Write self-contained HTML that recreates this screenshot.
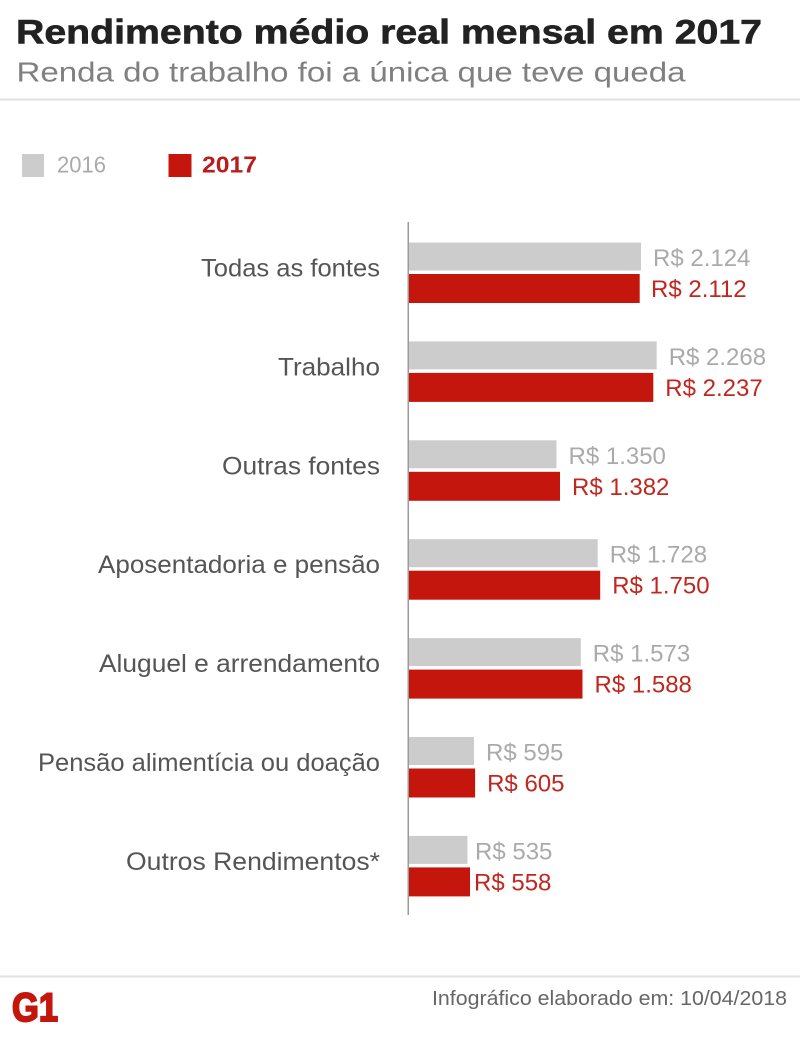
<!DOCTYPE html>
<html>
<head>
<meta charset="utf-8">
<style>
  html, body { margin: 0; padding: 0; background: #ffffff; }
  body { width: 800px; height: 1043px; overflow: hidden; }
  svg { display: block; }
  text { font-family: "Liberation Sans", sans-serif; }
</style>
</head>
<body>
<svg width="800" height="1043" viewBox="0 0 800 1043" xmlns="http://www.w3.org/2000/svg">
  <rect x="0" y="0" width="800" height="1043" fill="#ffffff"/>

  <!-- Header -->
  <text x="16" y="43.5" font-size="34" font-weight="bold" fill="#222222" stroke="#222222" stroke-width="0.6" textLength="746" lengthAdjust="spacingAndGlyphs">Rendimento médio real mensal em 2017</text>
  <text x="16.5" y="81.5" font-size="28" fill="#808080" textLength="669" lengthAdjust="spacingAndGlyphs">Renda do trabalho foi a única que teve queda</text>
  <rect x="0" y="98.5" width="800" height="2" fill="#e2e2e2"/>

  <!-- Legend -->
  <rect x="22" y="154" width="22" height="23" fill="#cccccc"/>
  <text x="57" y="172.5" font-size="23" fill="#aaaaaa" textLength="49" lengthAdjust="spacingAndGlyphs">2016</text>
  <rect x="168.5" y="154" width="23" height="23" fill="#c4160d"/>
  <text x="202" y="172.5" font-size="23" font-weight="bold" fill="#b91c1c" textLength="55" lengthAdjust="spacingAndGlyphs">2017</text>

  <!-- Axis -->
  <rect x="407.5" y="222" width="1.5" height="693" fill="#9a9a9a"/>

  <!-- Row 1 -->
  <text x="201" y="276.5" font-size="25" fill="#555555" textLength="179" lengthAdjust="spacingAndGlyphs">Todas as fontes</text>
  <rect x="409" y="242.5" width="232" height="28" fill="#cccccc"/>
  <rect x="409" y="274" width="230.7" height="29" fill="#c4160d"/>
  <text x="653" y="266" font-size="24" fill="#aaaaaa">R$ 2.124</text>
  <text x="651" y="297" font-size="24" fill="#c0271f">R$ 2.112</text>

  <!-- Row 2 -->
  <text x="278" y="375.4" font-size="25" fill="#555555" textLength="102" lengthAdjust="spacingAndGlyphs">Trabalho</text>
  <rect x="409" y="341.4" width="247.7" height="28" fill="#cccccc"/>
  <rect x="409" y="372.9" width="244.3" height="29" fill="#c4160d"/>
  <text x="668.7" y="364.9" font-size="24" fill="#aaaaaa">R$ 2.268</text>
  <text x="665.3" y="395.9" font-size="24" fill="#c0271f">R$ 2.237</text>

  <!-- Row 3 -->
  <text x="222" y="474.3" font-size="25" fill="#555555" textLength="158" lengthAdjust="spacingAndGlyphs">Outras fontes</text>
  <rect x="409" y="440.3" width="147.5" height="28" fill="#cccccc"/>
  <rect x="409" y="471.8" width="151" height="29" fill="#c4160d"/>
  <text x="568.5" y="463.8" font-size="24" fill="#aaaaaa">R$ 1.350</text>
  <text x="572" y="494.8" font-size="24" fill="#c0271f">R$ 1.382</text>

  <!-- Row 4 -->
  <text x="98" y="573.2" font-size="25" fill="#555555" textLength="282" lengthAdjust="spacingAndGlyphs">Aposentadoria e pensão</text>
  <rect x="409" y="539.2" width="188.7" height="28" fill="#cccccc"/>
  <rect x="409" y="570.7" width="191.2" height="29" fill="#c4160d"/>
  <text x="609.7" y="562.7" font-size="24" fill="#aaaaaa">R$ 1.728</text>
  <text x="612.2" y="593.7" font-size="24" fill="#c0271f">R$ 1.750</text>

  <!-- Row 5 -->
  <text x="99" y="672.1" font-size="25" fill="#555555" textLength="281" lengthAdjust="spacingAndGlyphs">Aluguel e arrendamento</text>
  <rect x="409" y="638.1" width="171.8" height="28" fill="#cccccc"/>
  <rect x="409" y="669.6" width="173.5" height="29" fill="#c4160d"/>
  <text x="592.8" y="661.6" font-size="24" fill="#aaaaaa">R$ 1.573</text>
  <text x="594.5" y="692.6" font-size="24" fill="#c0271f">R$ 1.588</text>

  <!-- Row 6 -->
  <text x="38" y="771" font-size="25" fill="#555555" textLength="342" lengthAdjust="spacingAndGlyphs">Pensão alimentícia ou doação</text>
  <rect x="409" y="737" width="65" height="28" fill="#cccccc"/>
  <rect x="409" y="768.5" width="66.1" height="29" fill="#c4160d"/>
  <text x="486" y="760.5" font-size="24" fill="#aaaaaa">R$ 595</text>
  <text x="487.1" y="791.5" font-size="24" fill="#c0271f">R$ 605</text>

  <!-- Row 7 -->
  <text x="126" y="869.9" font-size="25" fill="#555555" textLength="254" lengthAdjust="spacingAndGlyphs">Outros Rendimentos*</text>
  <rect x="409" y="835.9" width="58.4" height="28" fill="#cccccc"/>
  <rect x="409" y="867.4" width="61" height="29" fill="#c4160d"/>
  <text x="475" y="859.4" font-size="24" fill="#aaaaaa">R$ 535</text>
  <text x="474" y="890.4" font-size="24" fill="#c0271f">R$ 558</text>

  <!-- Footer -->
  <rect x="0" y="975.5" width="800" height="2" fill="#e2e2e2"/>
  <text x="12" y="1021" font-size="40" font-weight="bold" fill="#c4170c" stroke="#c4170c" stroke-width="2" textLength="46" lengthAdjust="spacingAndGlyphs">G1</text>
  <text x="432" y="1005" font-size="20" fill="#666666" textLength="355" lengthAdjust="spacingAndGlyphs">Infográfico elaborado em: 10/04/2018</text>
</svg>
</body>
</html>
